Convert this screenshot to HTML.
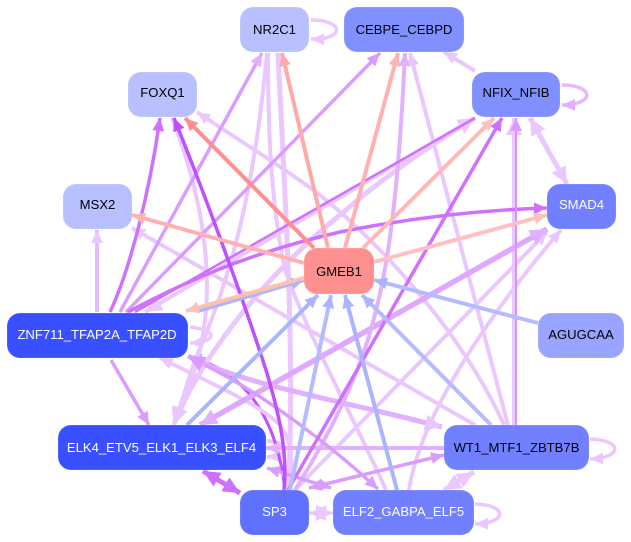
<!DOCTYPE html>
<html><head><meta charset="utf-8"><style>
html,body{margin:0;padding:0;background:#fff;width:631px;height:542px;overflow:hidden}
svg{display:block}
text{font-family:"Liberation Sans",sans-serif;font-size:13.1px;text-anchor:middle}
path{fill:none;stroke-linecap:butt}
rect{stroke:#fff;stroke-opacity:.18;stroke-width:1}
</style></head><body>
<svg width="631" height="542" viewBox="0 0 631 542" xmlns="http://www.w3.org/2000/svg">
<defs>
<marker id="r1" markerUnits="userSpaceOnUse" markerWidth="15" markerHeight="14" refX="13" refY="6" orient="auto-start-reverse"><polygon points="0,0 13,6 0,12" fill="#ff8f8f"/></marker>
<marker id="r2" markerUnits="userSpaceOnUse" markerWidth="15" markerHeight="14" refX="13" refY="6" orient="auto-start-reverse"><polygon points="0,0 13,6 0,12" fill="#ffaaaa"/></marker>
<marker id="r3" markerUnits="userSpaceOnUse" markerWidth="15" markerHeight="14" refX="13" refY="6" orient="auto-start-reverse"><polygon points="0,0 13,6 0,12" fill="#ffb4b4"/></marker>
<marker id="r4" markerUnits="userSpaceOnUse" markerWidth="15" markerHeight="14" refX="13" refY="6" orient="auto-start-reverse"><polygon points="0,0 13,6 0,12" fill="#ffc0c0"/></marker>
<marker id="bl" markerUnits="userSpaceOnUse" markerWidth="15" markerHeight="14" refX="13" refY="6" orient="auto-start-reverse"><polygon points="0,0 13,6 0,12" fill="#aab4ff"/></marker>
<marker id="p1" markerUnits="userSpaceOnUse" markerWidth="15" markerHeight="14" refX="13" refY="6" orient="auto-start-reverse"><polygon points="0,0 13,6 0,12" fill="#c050ff"/></marker>
<marker id="p2" markerUnits="userSpaceOnUse" markerWidth="15" markerHeight="14" refX="13" refY="6" orient="auto-start-reverse"><polygon points="0,0 13,6 0,12" fill="#d070ff"/></marker>
<marker id="p3" markerUnits="userSpaceOnUse" markerWidth="15" markerHeight="14" refX="13" refY="6" orient="auto-start-reverse"><polygon points="0,0 13,6 0,12" fill="#da9cff"/></marker>
<marker id="p4" markerUnits="userSpaceOnUse" markerWidth="15" markerHeight="14" refX="13" refY="6" orient="auto-start-reverse"><polygon points="0,0 13,6 0,12" fill="#e2b0ff"/></marker>
<marker id="p5" markerUnits="userSpaceOnUse" markerWidth="15" markerHeight="14" refX="13" refY="6" orient="auto-start-reverse"><polygon points="0,0 13,6 0,12" fill="#eac8ff"/></marker>
<marker id="P2" markerUnits="userSpaceOnUse" markerWidth="19" markerHeight="18" refX="17" refY="8" orient="auto-start-reverse"><polygon points="0,0 17,8 0,16" fill="#d070ff"/></marker>
<marker id="P3" markerUnits="userSpaceOnUse" markerWidth="19" markerHeight="18" refX="17" refY="8" orient="auto-start-reverse"><polygon points="0,0 17,8 0,16" fill="#da9cff"/></marker>
<marker id="P4" markerUnits="userSpaceOnUse" markerWidth="19" markerHeight="18" refX="17" refY="8" orient="auto-start-reverse"><polygon points="0,0 17,8 0,16" fill="#e2b0ff"/></marker>
<marker id="P5" markerUnits="userSpaceOnUse" markerWidth="19" markerHeight="18" refX="17" refY="8" orient="auto-start-reverse"><polygon points="0,0 17,8 0,16" fill="#eac8ff"/></marker>
</defs>

<!-- self loops -->
<g stroke="#eac8ff" stroke-width="3.5">
<path d="M311,20 C345,20 345,40 311,39" marker-end="url(#p5)"/>
<path d="M562,85 C595,85 595,105 562,105" stroke="#e2b8ff" marker-end="url(#p4)"/>
<path d="M590,439 C623,440 623,458 590,459" marker-end="url(#p5)"/>
<path d="M475,504 C508,505 508,523 475,524" marker-end="url(#p5)"/>
<path d="M190,327 C218,330 218,342 190,343" marker-end="url(#p5)"/>
<path d="M267,441 C290,442 290,456 267,457" stroke-width="4" marker-end="url(#p5)"/>
</g>

<path d="M188,357 C230,366 275,400 285,490" stroke="#c050ff" stroke-width="3" marker-start="url(#p1)"/>

<!-- pale edges -->
<g stroke="#eac8ff" stroke-width="4">
<path d="M97,312 L97,230" stroke="#e4bcff" marker-end="url(#p5)"/>
<path d="M475,425 L132,228" marker-end="url(#p5)"/>
<path d="M504,425 C470,350 400,260 320,195 C280,165 235,138 197,112" marker-end="url(#p5)"/>
<path d="M172,118 C200,190 212,260 205,320 C200,365 185,400 174,424"/>
<path d="M508,425 L467,270 L410,53" marker-end="url(#p5)"/>
<path d="M475,71 L444,52" marker-end="url(#p5)"/>
<path d="M295,490 L547,232" marker-end="url(#p5)"/>
<path d="M409,490 C420,420 480,325 561,230" marker-end="url(#p5)"/>
<path d="M386,490 C350,410 310,340 285,270 C270,200 268,120 268,53"/>
<path d="M267,53 C255,180 235,270 195,360 L174,425" marker-end="url(#P5)"/>
<path d="M278,53 C284,180 296,360 288,490" stroke-width="5" marker-end="url(#P5)"/>
<path d="M160,358 C215,385 260,405 280,425 C295,445 292,470 289,490" marker-start="url(#p5)"/>
<path d="M145,312 L475,118" stroke-width="4" marker-start="url(#P5)" marker-end="url(#P5)"/>
<path d="M174,424 C200,360 260,280 340,215 C380,180 430,145 475,118" stroke-width="5" marker-start="url(#P5)" marker-end="url(#P5)"/>
<path d="M530,118 L567,184" stroke-width="5" marker-start="url(#P5)" marker-end="url(#P5)"/>
<path d="M514,425 L514,118" stroke-width="4" marker-end="url(#P5)"/>
<path d="M309,513 L333,513" stroke-width="3" marker-start="url(#P5)" marker-end="url(#P5)"/>
<path d="M444,490 L474,472" stroke-width="5" marker-start="url(#P5)" marker-end="url(#P5)"/>
</g>

<!-- medium purple edges -->
<g stroke="#e2b0ff" stroke-width="4">
<path d="M266,448 L444,448" marker-start="url(#p4)"/>
<path d="M200,425 L547,229" stroke="#dfa8ff" stroke-width="5.500" marker-start="url(#P4)" marker-end="url(#P4)"/>
<path d="M188,356 C240,384 340,400 442,427" stroke-width="5" marker-start="url(#P3)" marker-end="url(#P5)"/>
<path d="M405,53 C400,160 392,250 376,310 C360,380 320,450 295,490" marker-start="url(#p4)"/>
</g>
<g stroke="#da9cff" stroke-width="3.500">
<path d="M120,312 L262,53" marker-end="url(#p4)"/>
<path d="M126,312 L380,53" marker-end="url(#p3)"/>
<path d="M111,360 L149,425" marker-end="url(#p3)"/>
<path d="M205,365 C265,395 330,445 378,489" marker-end="url(#p3)"/>
<path d="M267,468 L331,488" marker-start="url(#p3)" marker-end="url(#p3)"/>
<path d="M309,488 L444,455" marker-start="url(#p3)" marker-end="url(#p3)"/>
</g>

<!-- strong purple edges -->
<g stroke="#d070ff" stroke-width="3.500">
<path d="M110,312 C130,270 150,190 160,118" marker-end="url(#p2)"/>
<path d="M128,312 C180,285 240,255 340,232 C410,218 480,210 547,208" marker-end="url(#p2)"/>
<path d="M135,312 L475,118" stroke-width="2.500"/>
<path d="M288,490 L502,118" marker-end="url(#p2)"/>
<path d="M516,425 L516,118" stroke="#d890ff" stroke-width="2" marker-end="url(#p3)"/>
<path d="M203,471 L240,493" stroke-width="5" marker-start="url(#P2)" marker-end="url(#P2)"/>
</g>
<path d="M174,118 C205,195 240,290 266,370 C278,410 288,450 284,490" stroke="#c050ff" stroke-width="3.500" marker-start="url(#p1)"/>

<!-- red edges -->
<g stroke-width="4">
<path d="M314,248 L185,118" stroke="#ff8f8f" marker-end="url(#r1)"/>
<path d="M328,248 L282,53" stroke="#ffaaaa" marker-end="url(#r2)"/>
<path d="M345,248 L398,53" stroke="#ffb0b0" marker-end="url(#r3)"/>
<path d="M304,263 L132,215" stroke="#ffb0b0" marker-end="url(#r3)"/>
<path d="M363,248 L494,118" stroke="#ffb8b8" marker-end="url(#r4)"/>
<path d="M374,262 L547,215" stroke="#ffc0c0" marker-end="url(#r4)"/>
<path d="M198,311 L304,280" stroke="#aab4ff" marker-end="url(#bl)"/>
<path d="M304,278 L186,311" stroke="#ffc0b0" marker-end="url(#r4)"/>
</g>

<!-- blue edges -->
<g stroke="#aab4ff" stroke-width="4">
<path d="M187,425 L318,295" marker-end="url(#bl)"/>
<path d="M290,490 L331,295" stroke="#b4bcff" marker-end="url(#bl)"/>
<path d="M397,490 L345,295" marker-end="url(#bl)"/>
<path d="M491,425 L362,295" stroke="#b4bcff" marker-end="url(#bl)"/>
<path d="M538,323 L374,280" stroke="#b4bcff" marker-end="url(#bl)"/>
</g>

<!-- nodes -->
<g>
<rect x="240" y="7" width="69" height="45" rx="13" fill="#b8c0ff"/>
<text x="274.500" y="34" fill="#000">NR2C1</text>
<rect x="344" y="7" width="120" height="45" rx="13" fill="#8090ff"/>
<text x="404" y="34" fill="#000">CEBPE_CEBPD</text>
<rect x="128" y="72" width="69" height="45" rx="13" fill="#b8c0ff"/>
<text x="162.500" y="97" fill="#000">FOXQ1</text>
<rect x="472" y="72" width="88" height="45" rx="13" fill="#8090ff"/>
<text x="516" y="97" fill="#000">NFIX_NFIB</text>
<rect x="63" y="184" width="69" height="45" rx="13" fill="#b8c0ff"/>
<text x="97.500" y="209" fill="#000">MSX2</text>
<rect x="547" y="184" width="69" height="45" rx="13" fill="#7080ff"/>
<text x="581.500" y="209" fill="#fff">SMAD4</text>
<rect x="304" y="248" width="70" height="46" rx="13" fill="#ff9090"/>
<text x="339" y="276" fill="#000">GMEB1</text>
<rect x="7" y="313" width="181" height="45" rx="13" fill="#3850ff"/>
<text x="97" y="339" fill="#fff">ZNF711_TFAP2A_TFAP2D</text>
<rect x="538" y="313" width="86" height="45" rx="13" fill="#98a4ff"/>
<text x="581" y="339" fill="#000">AGUGCAA</text>
<rect x="58" y="425" width="208" height="45" rx="13" fill="#3850ff"/>
<text x="161.500" y="452" fill="#fff">ELK4_ETV5_ELK1_ELK3_ELF4</text>
<rect x="444" y="425" width="145" height="45" rx="13" fill="#7080ff"/>
<text x="516.500" y="452" fill="#000">WT1_MTF1_ZBTB7B</text>
<rect x="240" y="490" width="69" height="45" rx="13" fill="#6070ff"/>
<text x="274.500" y="516" fill="#fff">SP3</text>
<rect x="333" y="490" width="141" height="45" rx="13" fill="#7080ff"/>
<text x="403.500" y="516" fill="#fff">ELF2_GABPA_ELF5</text>
</g>
</svg>
</body></html>
